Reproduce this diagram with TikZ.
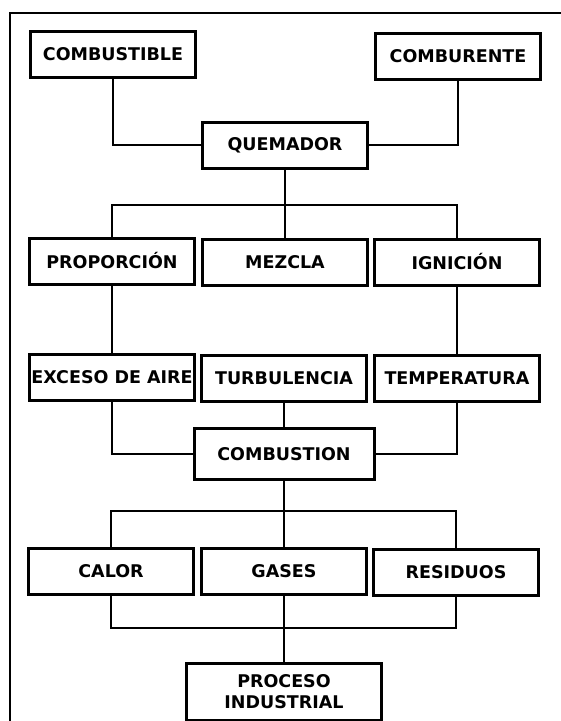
\documentclass[tikz,border=0pt]{standalone}
\usepackage{fontspec}
\setmainfont{DejaVu Sans}
\begin{document}
\begin{tikzpicture}[x=1pt,y=-1pt,font=\bfseries\fontsize{17.5}{21}\selectfont,
  every node/.style={draw,line width=3pt,minimum width=165pt,minimum height=46pt,inner sep=0pt,align=center},
  link/.style={line width=2.5pt}]
\useasboundingbox (0,0) rectangle (561,721);
\draw[line width=2.2pt] (561,13) -| (10,721);
% entradas
\node (cb) at (113,54) {COMBUSTIBLE};
\node (cr) at (458,56) {COMBURENTE};
\node (qm) at (285,145) {QUEMADOR};
% condiciones
\node (pr) at (112,261) {PROPORCIÓN};
\node (mz) at (285,262) {MEZCLA};
\node (ig) at (457,262) {IGNICIÓN};
\node (ex) at (112,377) {EXCESO DE AIRE};
\node (tu) at (284,378) {TURBULENCIA};
\node (te) at (457,378) {TEMPERATURA};
\node[minimum width=180pt,minimum height=51pt] (cn) at (284,454) {COMBUSTION};
% productos
\node (ca) at (111,571) {CALOR};
\node (ga) at (284,571) {GASES};
\node (re) at (456,572) {RESIDUOS};
\node[minimum width=195pt,minimum height=57pt] (pi) at (284,692) {PROCESO\\INDUSTRIAL};
\coordinate (b1) at (285,205);
\coordinate (b2) at (284,511);
\coordinate (b3) at (284,628);
\draw[link] (cb.south) |- (qm.west);
\draw[link] (cr.south) |- (qm.east);
\draw[link] (qm.south) -- (b1) -- (mz.north);
\draw[link] (pr.north) |- (b1) -| (ig.north);
\draw[link] (pr.south) -- (ex.north);
\draw[link] (ig.south) -- (te.north);
\draw[link] (tu.south) -- (cn.north);
\draw[link] (ex.south) |- (cn.west);
\draw[link] (te.south) |- (cn.east);
\draw[link] (cn.south) -- (b2) -- (ga.north);
\draw[link] (ca.north) |- (b2) -| (re.north);
\draw[link] (ca.south) |- (b3) -| (re.south);
\draw[link] (ga.south) -- (b3) -- (pi.north);
\end{tikzpicture}
\end{document}
